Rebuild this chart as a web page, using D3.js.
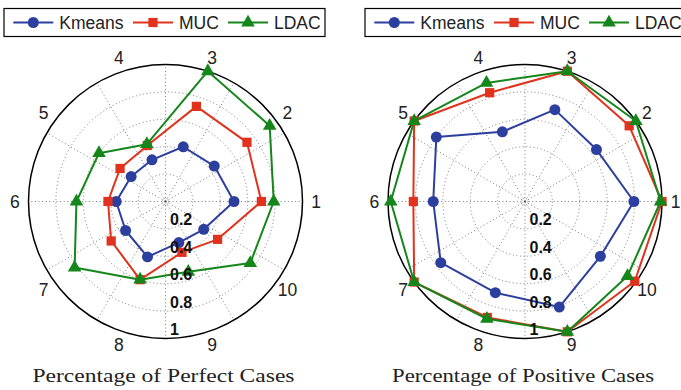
<!DOCTYPE html>
<html>
<head>
<meta charset="utf-8">
<script src="https://cdn.jsdelivr.net/npm/d3@7"></script>
<style>
  html, body { margin: 0; padding: 0; background: #fff; }
  svg { display: block; }
</style>
</head>
<body>
<svg id="chart" width="681" height="390"></svg>
<script>
// Spoke labels (one per case group) and radial tick labels
const axisLabels = ["1", "2", "3", "4", "5", "6", "7", "8", "9", "10"];
const radialTicks = [0.2, 0.4, 0.6, 0.8, 1];
const seriesNames = ["Kmeans", "MUC", "LDAC"];

// Percentage of perfect cases per group
const perfectKmeans = [0.50, 0.44, 0.42, 0.32, 0.31, 0.36, 0.36, 0.425, 0.315, 0.345];
const perfectMUC    = [0.70, 0.735, 0.73, 0.43, 0.41, 0.42, 0.49, 0.60, 0.39, 0.47];
const perfectLDAC   = [0.79, 0.94, 1.00, 0.44, 0.60, 0.65, 0.82, 0.60, 0.54, 0.765];

// Percentage of positive cases per group
const positiveKmeans = [0.795, 0.645, 0.705, 0.535, 0.80, 0.67, 0.76, 0.70, 0.81, 0.68];
const positiveMUC    = [1.00, 0.94, 1.00, 0.835, 1.00, 0.815, 1.00, 0.89, 1.00, 0.99];
const positiveLDAC   = [0.99, 1.00, 1.00, 0.91, 1.00, 0.98, 1.00, 0.90, 1.00, 0.925];

const colors = { Kmeans: "#2c3f9f", MUC: "#e0321c", LDAC: "#14861a" };
const symbols = { Kmeans: d3.symbolCircle, MUC: d3.symbolSquare, LDAC: d3.symbolTriangle };
const symbolSize = { Kmeans: 95, MUC: 85, LDAC: 80 };

const svg = d3.select("#chart");
const R = 137;

const panels = [
  { cx: 165.5, cy: 201.5, title: "Percentage of Perfect Cases",
    series: { Kmeans: perfectKmeans, MUC: perfectMUC, LDAC: perfectLDAC }, legendX: 4 },
  { cx: 525, cy: 201.5, title: "Percentage of Positive Cases",
    series: { Kmeans: positiveKmeans, MUC: positiveMUC, LDAC: positiveLDAC }, legendX: 365 }
];

const r = d3.scaleLinear().domain([0, 1]).range([0, R]);
// spoke i sits at i*36 degrees, counter-clockwise from east
const angle = d3.scaleLinear().domain([0, axisLabels.length]).range([0, 2 * Math.PI]);

panels.forEach(p => {
  const g = svg.append("g").attr("transform", `translate(${p.cx},${p.cy})`);
  const px = (i, v) => r(v) * Math.cos(angle(i));
  const py = (i, v) => -r(v) * Math.sin(angle(i));

  // dotted grid: spokes every 30 degrees
  d3.range(0, 360, 30).forEach(deg => {
    const a = deg * Math.PI / 180;
    g.append("line")
      .attr("x1", 0).attr("y1", 0)
      .attr("x2", r(1) * Math.cos(a)).attr("y2", -r(1) * Math.sin(a))
      .attr("stroke", "#7a7a7a").attr("stroke-width", 1)
      .attr("stroke-dasharray", "1,2.6");
  });
  // dotted rings
  radialTicks.filter(t => t < 1).forEach(t => {
    g.append("circle").attr("r", r(t))
      .attr("fill", "none").attr("stroke", "#7a7a7a")
      .attr("stroke-width", 1).attr("stroke-dasharray", "1,2.6");
  });
  g.append("circle").attr("r", 3).attr("fill", "none")
    .attr("stroke", "#777").attr("stroke-width", 0.8).attr("stroke-dasharray", "1,1.5");
  g.append("circle").attr("r", 0.8).attr("fill", "#333");

  // outer boundary
  g.append("circle").attr("r", r(1))
    .attr("fill", "none").attr("stroke", "#000").attr("stroke-width", 1.5);

  // spoke labels
  axisLabels.forEach((lab, i) => {
    g.append("text")
      .attr("x", r(1.1) * Math.cos(angle(i)))
      .attr("y", -r(1.1) * Math.sin(angle(i)))
      .attr("text-anchor", "middle").attr("dominant-baseline", "central")
      .attr("font-family", "Liberation Sans, Arial, sans-serif")
      .attr("font-size", 17.5).attr("fill", "#222")
      .text(lab);
  });

  // series polygons and markers
  seriesNames.forEach(name => {
    const vals = p.series[name];
    const line = d3.line().x((v, i) => px(i, v)).y((v, i) => py(i, v)).curve(d3.curveLinearClosed);
    g.append("path").attr("d", line(vals))
      .attr("fill", "none").attr("stroke", colors[name])
      .attr("stroke-width", 2).attr("stroke-linejoin", "round");
    const sym = d3.symbol().type(symbols[name]).size(symbolSize[name]);
    g.selectAll(null).data(vals).enter().append("path")
      .attr("d", sym)
      .attr("transform", (v, i) => `translate(${px(i, v)},${py(i, v)})`)
      .attr("fill", colors[name]);
  });

  // radial tick labels, running down from the centre
  radialTicks.forEach(t => {
    g.append("text")
      .attr("x", 4.5).attr("y", r(t) - 3.5)
      .attr("font-family", "Liberation Sans, Arial, sans-serif")
      .attr("font-weight", "bold").attr("font-size", 16).attr("fill", "#111")
      .text(t === 1 ? "1" : t.toFixed(1));
  });

  // caption
  svg.append("text")
    .attr("x", p.cx - 2).attr("y", 382)
    .attr("text-anchor", "middle")
    .attr("font-family", "Liberation Serif, Times New Roman, serif")
    .attr("font-size", 19).attr("fill", "#222")
    .attr("textLength", 262).attr("lengthAdjust", "spacingAndGlyphs")
    .text(p.title);

  // legend
  const lg = svg.append("g").attr("transform", `translate(${p.legendX},8.5)`);
  lg.append("rect").attr("width", 321).attr("height", 28)
    .attr("fill", "#fff").attr("stroke", "#000").attr("stroke-width", 1.2);
  const itemX = [9.3, 129, 224];
  seriesNames.forEach((name, k) => {
    const ig = lg.append("g").attr("transform", `translate(${itemX[k]},14)`);
    ig.append("line").attr("x1", 0).attr("x2", 40).attr("y1", 0).attr("y2", 0)
      .attr("stroke", colors[name]).attr("stroke-width", 2);
    ig.append("path").attr("d", d3.symbol().type(symbols[name]).size(symbolSize[name])())
      .attr("transform", "translate(20,0)").attr("fill", colors[name]);
    ig.append("text").attr("x", 46).attr("y", 6)
      .attr("font-family", "Liberation Sans, Arial, sans-serif")
      .attr("font-size", 17.5).attr("fill", "#222")
      .text(name);
  });
});
</script>
</body>
</html>
